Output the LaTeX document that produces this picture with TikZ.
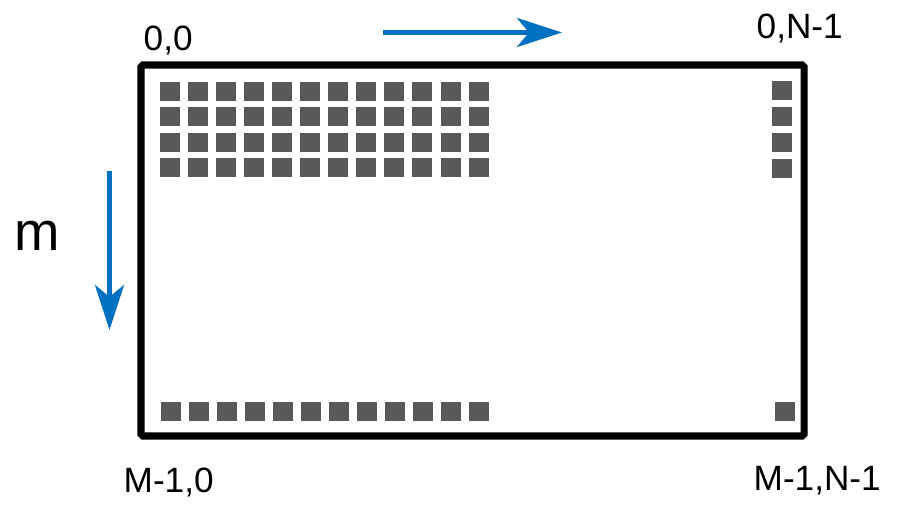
\documentclass[tikz,border=0pt]{standalone}
\usepackage{fontspec}
\setmainfont{Liberation Sans}
\usetikzlibrary{arrows.meta}
\definecolor{arrowblue}{RGB}{0,112,192}
\definecolor{cellgray}{RGB}{89,89,89}
\tikzset{> = {Stealth[length=0.45cm,width=0.29cm,inset=0.12cm]}}
\tikzset{cell/.style={fill=cellgray}, dir/.style={->,arrowblue,line width=1.4pt},
	corner/.style={inner sep=0pt,anchor=base west,font=\fontsize{10}{12}\selectfont}}

\begin{document}
\begin{tikzpicture}[x=0.01cm,y=-0.01cm]
		\useasboundingbox (0,0) rectangle (907,509);
		\draw[line width=2pt,rounded corners=0.5pt] (141,65) rectangle (804,436);
		% index labels
		\node[corner] (tl) at (143,50) {0,0};
		\node[corner] (tr) at (756,38) {0,N-1};
		\node[corner] (bl) at (123,492) {M-1,0};
		\node[corner] (br) at (753,490) {M-1,N-1};
		\node[corner,font=\fontsize{15.5}{18}\selectfont] (m) at (14,250) {m};
		% directions
		\coordinate (n0) at (383,32.5); \coordinate (n1) at (562,32.5);
		\coordinate (m0) at (109.5,171); \coordinate (m1) at (109.5,330);
		\draw[dir] (n0)--(n1);
		\draw[dir] (m0)--(m1);
		% elements
		\foreach \i in {0,...,11}{
			\foreach \y in {91,116.5,142.5,167.5}
				\fill[cell] (169.5+28.1*\i-10,\y-9.5) rectangle ++(20,19);
			\fill[cell] (171+28*\i-10,411.5-9.5) rectangle ++(20,19);
		}
		\foreach \y in {90,116,142.5,168}
			\fill[cell] (782-10,\y-9.5) rectangle ++(20,19);
		\fill[cell] (784.5-10,411-9.5) rectangle ++(20,19);
		\end{tikzpicture}
\end{document}
